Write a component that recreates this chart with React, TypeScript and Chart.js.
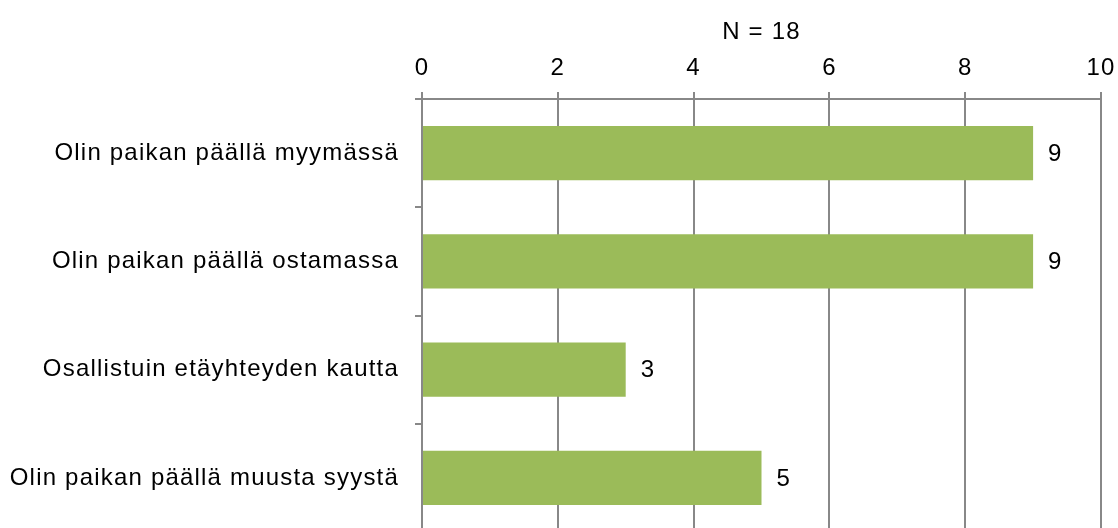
import React, { useEffect, useRef } from "react";
import { Chart, registerables } from "chart.js";

Chart.register(...registerables);

const categories = [
  "Olin paikan päällä myymässä",
  "Olin paikan päällä ostamassa",
  "Osallistuin etäyhteyden kautta",
  "Olin paikan päällä muusta syystä",
];
const values = [9, 9, 3, 5];
const axisTitle = "N = 18";
const xMin = 0;
const xMax = 10;
const xStep = 2;

const FONT = "'Liberation Sans', Arial, sans-serif";
const SIZE = 24;
const SPACING = "1.2px";
const GRID = "#888888";

const spacingPlugin = {
  id: "spacing",
  beforeLayout(chart: any) {
    chart.ctx.letterSpacing = SPACING;
  },
  beforeDraw(chart: any) {
    chart.ctx.letterSpacing = SPACING;
  },
};

const labelPlugin = {
  id: "barLabels",
  afterDatasetsDraw(chart: any) {
    const ctx = chart.ctx;
    ctx.save();
    ctx.letterSpacing = SPACING;
    ctx.font = `${SIZE}px ${FONT}`;
    ctx.fillStyle = "#000000";
    ctx.textAlign = "left";
    ctx.textBaseline = "middle";
    const meta = chart.getDatasetMeta(0);
    meta.data.forEach((bar: any, i: number) => {
      ctx.fillText(String(values[i]), bar.x + 15, bar.y + 1);
    });
    ctx.restore();
  },
};

export default function App() {
  const ref = useRef<HTMLCanvasElement>(null);
  useEffect(() => {
    document.body.style.margin = "0";
    const chart = new Chart(ref.current!, {
      type: "bar",
      data: {
        labels: categories,
        datasets: [
          {
            data: values,
            backgroundColor: "#9BBB59",
            barPercentage: 0.5,
            categoryPercentage: 1,
          },
        ],
      },
      options: {
        indexAxis: "y",
        responsive: false,
        animation: false,
        devicePixelRatio: 1,
        layout: { padding: { left: 0, right: 17, top: 0, bottom: 0 } },
        plugins: {
          legend: { display: false },
          tooltip: { enabled: false },
        },
        scales: {
          x: {
            position: "top",
            min: xMin,
            max: xMax,
            ticks: {
              stepSize: xStep,
              color: "#000000",
              padding: 9,
              font: { family: FONT, size: SIZE },
            },
            grid: {
              color: GRID,
              lineWidth: 2,
              drawTicks: true,
              tickLength: 7,
            },
            border: { display: true, color: GRID, width: 2 },
            title: {
              display: true,
              text: axisTitle,
              color: "#000000",
              padding: { top: 18, bottom: 0 },
              font: { family: FONT, size: SIZE },
            },
            afterFit(scale: any) {
              scale.height = 99;
              scale.paddingLeft = 0;
              scale.paddingRight = 0;
            },
          },
          y: {
            ticks: {
              color: "#000000",
              padding: 16,
              font: { family: FONT, size: SIZE },
            },
            grid: {
              color: GRID,
              lineWidth: 2,
              drawOnChartArea: false,
              drawTicks: true,
              tickLength: 7,
              offset: true,
            },
            border: { display: true, color: GRID, width: 2 },
            afterFit(scale: any) {
              scale.width = 422;
              scale.paddingTop = 0;
              scale.paddingBottom = 0;
            },
          },
        },
      } as any,
      plugins: [spacingPlugin, labelPlugin],
    });
    return () => chart.destroy();
  }, []);
  return (
    <div style={{ width: 1118, height: 528, overflow: "hidden" }}>
      <canvas ref={ref} width={1118} height={532} style={{ display: "block" }} />
    </div>
  );
}
